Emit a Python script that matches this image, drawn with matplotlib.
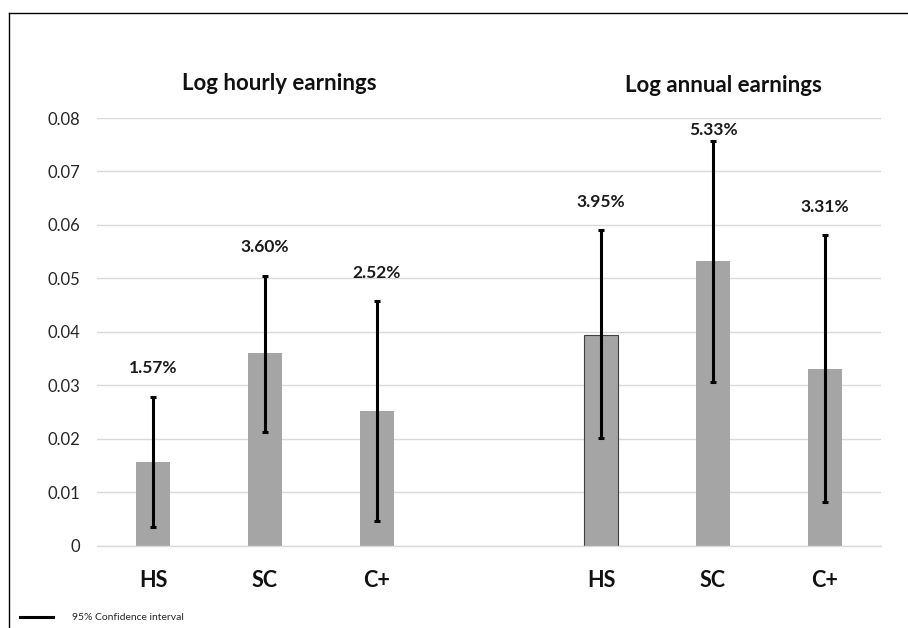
import matplotlib
matplotlib.use("Agg")
import matplotlib.pyplot as plt
from matplotlib.lines import Line2D

plt.rcParams['font.family'] = ['Lato', 'DejaVu Sans']

# Categories and estimates (two panels: hourly and annual earnings)
categories = ["HS", "SC", "C+", "HS", "SC", "C+"]
estimates = [0.0157, 0.0360, 0.0252, 0.0395, 0.0533, 0.0331]
ci_low = [0.0036, 0.0213, 0.0047, 0.0201, 0.0307, 0.0082]
ci_high = [0.0279, 0.0505, 0.0458, 0.0590, 0.0757, 0.0581]
value_labels = ["1.57%", "3.60%", "2.52%", "3.95%", "5.33%", "3.31%"]
panel_titles = ["Log hourly earnings", "Log annual earnings"]
yticks = [0, 0.01, 0.02, 0.03, 0.04, 0.05, 0.06, 0.07, 0.08]
ytick_labels = ["0", "0.01", "0.02", "0.03", "0.04", "0.05", "0.06", "0.07", "0.08"]
legend_label = "95% Confidence interval"

fig = plt.figure(figsize=(9.08, 6.28), dpi=100)
ax = fig.add_axes([0.1068, 0.1306, 0.9703 - 0.1068, 0.8121 - 0.1306])

# slots 0-2 for the first panel, 4-6 for the second, slot 3 left empty
xpos = [0, 1, 2, 4, 5, 6]
bar_color = "#a5a5a5"
edges = ["none", "none", "none", "#404040", "none", "none"]
lws = [0, 0, 0, 0.8, 0, 0]

ax.set_axisbelow(True)
for x, v, ec, lw in zip(xpos, estimates, edges, lws):
    ax.bar(x, v, width=0.31, color=bar_color, edgecolor=ec, linewidth=lw, zorder=2)

yerr_lo = [e - l for e, l in zip(estimates, ci_low)]
yerr_hi = [h - e for e, h in zip(estimates, ci_high)]
ax.errorbar(xpos, estimates, yerr=[yerr_lo, yerr_hi], fmt="none", ecolor="black",
            elinewidth=2.2, capsize=2.4, capthick=2.2, zorder=3)

for x, hi, lab in zip(xpos, ci_high, value_labels):
    y = min(hi + 0.0053, 0.0777)
    ax.text(x, y, lab, ha="center", va="center", fontsize=12.5, fontweight="bold", color="#1a1a1a")

ax.set_xlim(-0.5, 6.5)
ax.set_ylim(0, 0.08)
ax.set_yticks(yticks)
ax.set_yticklabels(ytick_labels, fontsize=12, color="#262626")
ax.set_xticks(xpos)
ax.set_xticklabels(categories, fontsize=15.5, fontweight="bold", color="#111111")
ax.tick_params(axis="y", length=0, pad=12)
ax.tick_params(axis="x", length=0, pad=17)
ax.grid(axis="y", color="#d9d9d9", linewidth=1.0)
for s in ["top", "right", "left"]:
    ax.spines[s].set_visible(False)
ax.spines["bottom"].set_color("#d9d9d9")
ax.spines["bottom"].set_linewidth(1.0)

ax.text(1.13, 1.08, panel_titles[0], transform=ax.get_xaxis_transform(),
        ha="center", va="center", fontsize=16, fontweight="bold", color="#111111")
ax.text(5.09, 1.075, panel_titles[1], transform=ax.get_xaxis_transform(),
        ha="center", va="center", fontsize=16, fontweight="bold", color="#111111")

# Frame lines along the top and left edge
W, H = 908, 628
fig.add_artist(Line2D([9 / W, 9 / W], [0, 1 - 13 / H], color="black", linewidth=1.0,
                      transform=fig.transFigure))
fig.add_artist(Line2D([9 / W, 1], [1 - 13 / H, 1 - 13 / H], color="black", linewidth=1.0,
                      transform=fig.transFigure))

# Legend key for the confidence interval
fig.add_artist(Line2D([20 / W, 53 / W], [1 - 617 / H, 1 - 617 / H], color="black",
                      linewidth=2.2, transform=fig.transFigure))
fig.text(72 / W, 1 - 617 / H, legend_label, fontsize=7.5, va="center", ha="left", color="#262626")

fig.savefig("out.png", dpi=100)
